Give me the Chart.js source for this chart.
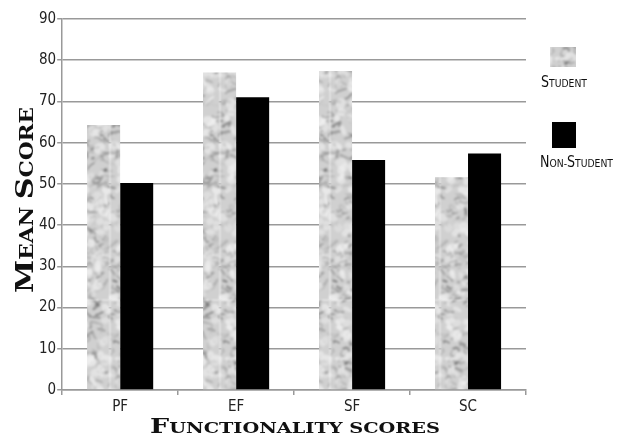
<!DOCTYPE html>
<html>
<head>
<meta charset="utf-8">
<script src="https://cdn.jsdelivr.net/npm/chart.js@4.4.1/dist/chart.umd.min.js"></script>
<style>
  html, body { margin: 0; padding: 0; background: #fff; }
  #wrap { width: 620px; height: 438px; position: relative; }
</style>
</head>
<body>
<div id="wrap"><canvas id="chart" width="620" height="438"></canvas></div>
<script>
const categories = ['PF', 'EF', 'SF', 'SC'];
const studentScores = [64.3, 77.0, 77.4, 51.6];
const nonStudentScores = [50.2, 71.0, 55.8, 57.4];
const yTicks = [0, 10, 20, 30, 40, 50, 60, 70, 80, 90];
const seriesNames = ['Student', 'Non-Student'];

// pick a condensed sans if one is installed
function pickNarrow() {
  const probe = document.createElement('canvas').getContext('2d');
  const sample = 'Non-Student 0123456789';
  const candidates = ["'Liberation Sans Narrow'", "'DejaVu Sans Condensed'", "'Roboto Condensed'", "'Open Sans Condensed'"];
  for (const c of candidates) {
    probe.font = `20px ${c}, monospace`;
    const a = probe.measureText(sample).width;
    probe.font = '20px monospace';
    const b = probe.measureText(sample).width;
    if (Math.abs(a - b) > 0.5) return `${c}, 'Liberation Sans', sans-serif`;
  }
  return "'Liberation Sans', Arial, sans-serif";
}
const narrow = pickNarrow();
const serif = "'DejaVu Serif', serif";

// marble-ish grey texture for the student bars (style only)
function makeMarble() {
  const W = 110, H = 300;
  const c = document.createElement('canvas');
  c.width = W; c.height = H;
  const g = c.getContext('2d');
  let seed = 11;
  const rnd = () => { seed = (seed * 16807) % 2147483647; return seed / 2147483647; };
  g.fillStyle = '#d0d0d0';
  g.fillRect(0, 0, W, H);
  // repeat each mark across the seams so the tile wraps
  const wrap = (fn) => { [-W, 0, W].forEach(dx => [-H, 0, H].forEach(dy => fn(dx, dy))); };
  for (let i = 0; i < 900; i++) {
    const x = rnd() * W, y = rnd() * H;
    const shade = Math.floor(80 + rnd() * 140);
    const col = `rgba(${shade},${shade},${shade},${0.3 + rnd() * 0.45})`;
    const lw = 0.6 + rnd() * 1.8;
    const c1x = (rnd() - 0.5) * 14, c1y = (rnd() - 0.5) * 10, ex = (rnd() - 0.3) * 16, ey = (rnd() - 0.6) * 12;
    wrap((dx, dy) => {
      g.strokeStyle = col; g.lineWidth = lw;
      g.beginPath();
      g.moveTo(x + dx, y + dy);
      g.quadraticCurveTo(x + dx + c1x, y + dy + c1y, x + dx + ex, y + dy + ey);
      g.stroke();
    });
  }
  for (let i = 0; i < 260; i++) {
    const x = rnd() * W, y = rnd() * H;
    const a = 0.35 + rnd() * 0.4, rx = 2 + rnd() * 5, ry = 1.5 + rnd() * 4, rot = rnd() * 3;
    wrap((dx, dy) => {
      g.fillStyle = `rgba(240,240,240,${a})`;
      g.beginPath();
      g.ellipse(x + dx, y + dy, rx, ry, rot, 0, Math.PI * 2);
      g.fill();
    });
  }
  // blur with neighbours drawn around so the edges stay seamless
  const out = document.createElement('canvas');
  out.width = W; out.height = H;
  const o = out.getContext('2d');
  o.filter = 'blur(0.8px)';
  wrap((dx, dy) => o.drawImage(c, dx, dy));
  return o.createPattern(out, 'repeat');
}
const marble = makeMarble();

// small caps by hand: capitals at bigSize, the rest uppercased at smallSize,
// squeezed or stretched horizontally to a target width
function drawSmallCaps(ctx, text, x, y, family, weight, big, small, targetW) {
  const parts = [];
  let w = 0;
  for (const ch of text) {
    const isBig = ch !== ch.toLowerCase();
    const font = `${weight} ${isBig ? big : small}px ${family}`;
    ctx.font = font;
    const cw = ctx.measureText(ch.toUpperCase()).width;
    parts.push({ ch: ch.toUpperCase(), font, cw });
    w += cw;
  }
  const sx = targetW ? targetW / w : 1;
  ctx.save();
  ctx.translate(x, y);
  ctx.scale(sx, 1);
  ctx.textAlign = 'left';
  ctx.textBaseline = 'alphabetic';
  let cx = 0;
  parts.forEach(p => { ctx.font = p.font; ctx.fillText(p.ch, cx, 0); cx += p.cw; });
  ctx.restore();
}

const decorPlugin = {
  id: 'decor',
  afterDraw(chart) {
    const { ctx } = chart;
    ctx.save();
    ctx.fillStyle = '#111';
    // x-axis title
    drawSmallCaps(ctx, 'Functionality scores', 150, 433, serif, 'bold', 21, 15, 290);
    // y-axis title
    ctx.translate(33, 200);
    ctx.rotate(-Math.PI / 2);
    drawSmallCaps(ctx, 'Mean Score', -93, 0, serif, 'bold', 25, 18, 186);
    ctx.restore();

    // legend: swatch above label
    ctx.save();
    const items = [
      { sx: 550, sy: 47, sw: 26, sh: 20, tx: 541, ty: 87, tw: 46 },
      { sx: 552, sy: 122, sw: 24, sh: 26, tx: 540, ty: 167, tw: 73 }
    ];
    chart.data.datasets.forEach((d, i) => {
      const it = items[i];
      ctx.fillStyle = d.backgroundColor;
      ctx.fillRect(it.sx, it.sy, it.sw, it.sh);
      ctx.fillStyle = '#111';
      drawSmallCaps(ctx, d.label, it.tx, it.ty, narrow, 'normal', 15, 11, it.tw);
    });
    ctx.restore();
  }
};

new Chart(document.getElementById('chart'), {
  type: 'bar',
  data: {
    labels: categories,
    datasets: [
      { label: seriesNames[0], data: studentScores, backgroundColor: marble, borderWidth: 0 },
      { label: seriesNames[1], data: nonStudentScores, backgroundColor: '#000', borderWidth: 0 }
    ]
  },
  options: {
    responsive: false,
    animation: false,
    events: [],
    layout: { padding: { left: 38, right: 94, top: 19, bottom: 19 } },
    plugins: { legend: { display: false }, tooltip: { enabled: false } },
    datasets: { bar: { categoryPercentage: 0.57, barPercentage: 1.0 } },
    scales: {
      x: {
        grid: { display: true, offset: true, drawOnChartArea: false, color: '#999', lineWidth: 1.5, tickLength: 5 },
        border: { color: '#999', width: 1.5 },
        ticks: { color: '#222', font: { family: narrow, size: 15 }, padding: 3 }
      },
      y: {
        min: 0, max: 90,
        afterBuildTicks: (scale) => { scale.ticks = yTicks.map(v => ({ value: v })); },
        grid: { color: '#999', lineWidth: 1.5, tickLength: 5 },
        border: { color: '#999', width: 1.5 },
        ticks: { color: '#222', font: { family: narrow, size: 15 }, padding: 1 }
      }
    }
  },
  plugins: [decorPlugin]
});
</script>
</body>
</html>
